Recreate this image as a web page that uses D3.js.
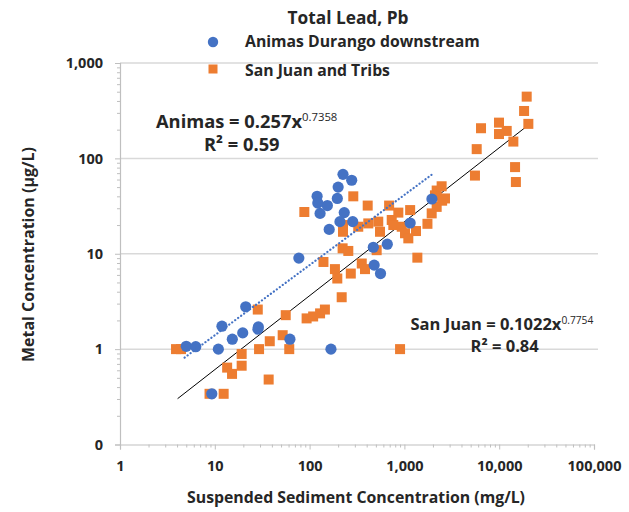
<!DOCTYPE html>
<html>
<head>
<meta charset="utf-8">
<script src="https://cdn.jsdelivr.net/npm/d3@7"></script>
<style>
  body { margin: 0; background: #fff; }
  svg text { font-family: "Open Sans", Lato, sans-serif; font-weight: bold; fill: #262626; }
</style>
</head>
<body>
<svg id="chart" width="629" height="512"></svg>
<script>
// Suspended sediment (mg/L) and total lead (µg/L) samples
const animasSSC = [5, 6.3, 10.9, 15.3, 19.7, 11.9, 28.8, 28.5, 21.2, 9.3, 62, 77, 168,
  225, 278, 200, 120, 196, 154, 129, 122, 232, 209, 285, 161, 470, 480, 560, 660, 1150, 1950];
const animasPb = [1.07, 1.06, 1.0, 1.27, 1.48, 1.74, 1.71, 1.62, 2.78, 0.34, 1.27, 9.0, 1.0,
  68, 59, 50, 40, 38, 32, 26.5, 34, 27, 21.7, 21.7, 18, 11.7, 7.6, 6.2, 12.6, 21, 37.5];

const sanJuanSSC = [3.9, 4.4, 8.8, 12.4, 13.5, 15.2, 19.2, 19.2, 28.4, 29.3, 37, 38, 52, 56, 61,
  88, 93, 109, 129, 145, 140, 185, 196, 218, 225, 225, 223, 256, 272, 289, 326, 355, 384,
  410, 416, 510, 530, 553, 690, 735, 764, 863, 900, 937, 1015, 1100, 1150, 1325, 1370,
  1750, 1940, 2100, 2190, 2190, 2470, 2680, 2500,
  5550, 5790, 6430, 9950, 9950, 12000, 14100, 14700, 15000, 18300, 19500, 20300];
const sanJuanPb = [1.0, 1.0, 0.34, 0.34, 0.64, 0.55, 0.67, 0.89, 2.6, 1.0, 0.48, 1.21, 1.4, 2.27, 1.0,
  27.4, 2.1, 2.2, 2.37, 2.6, 8.2, 6.9, 5.5, 3.5, 20, 17, 11.4, 10.7, 6.2, 40, 19.2, 7.9, 6.9,
  32, 20.8, 10.9, 21.7, 17, 32, 22.6, 20, 27, 1.0, 19.2, 16.4, 14.5, 28.7, 17.3, 9.1,
  20.6, 26.5, 41, 46, 31, 51, 38, 36,
  66, 125, 207, 237, 180, 194, 150, 81, 56.5, 314, 444, 230];

// Power-law fits y = a * x^b and the SSC span each one covers
const animasFit = [0.257, 0.7358];
const animasFitSpan = [4.8, 1950];
const sanJuanFit = [0.1022, 0.7754];
const sanJuanFitSpan = [4.05, 20300];

const xTicks = [1, 10, 100, 1000, 10000, 100000];
const xTickLabels = ["1", "10", "100", "1,000", "10,000", "100,000"];
const yTicks = [0.1, 1, 10, 100, 1000];
const yTickLabels = ["0", "1", "10", "100", "1,000"];

const blue = "#4472C4";
const orange = "#ED7D31";
const axisGrey = "#bfbfbf";

const svg = d3.select("#chart");

const x = d3.scaleLog().domain([1, 100000]).range([120, 594]);
const y = d3.scaleLog().domain([0.1, 1000]).range([444.5, 63]);

// scale a text's font size so that it spans the given width
function fitWidth(sel, width) {
  const base = +sel.attr("font-size");
  const len = sel.node().getComputedTextLength();
  sel.attr("font-size", base * width / len);
  return sel;
}

// minor tick positions (2..9 within each decade)
const minorX = [];
for (let d = 1; d < 100000; d *= 10) for (let k = 2; k <= 9; k++) minorX.push(d * k);
const minorY = [];
for (let d = 0.1; d < 999; d *= 10) for (let k = 2; k <= 9; k++) minorY.push(+(d * k).toPrecision(3));

// horizontal gridlines
svg.append("g")
  .selectAll("line")
  .data(yTicks.slice(1))
  .join("line")
  .attr("x1", x(1)).attr("x2", 598)
  .attr("y1", d => y(d)).attr("y2", d => y(d))
  .attr("stroke", "#d9d9d9").attr("stroke-width", 1.5);

// minor ticks
const xMinor = svg.append("g").attr("transform", `translate(0,${y(0.1)})`)
  .call(d3.axisBottom(x).tickValues(minorX).tickSize(3).tickFormat(""));
const yMinor = svg.append("g").attr("transform", `translate(${x(1)},0)`)
  .call(d3.axisLeft(y).tickValues(minorY).tickSize(3).tickFormat(""));

// major axes
const xAxis = svg.append("g").attr("transform", `translate(0,${y(0.1)})`)
  .call(d3.axisBottom(x).tickValues(xTicks).tickSize(5).tickPadding(8)
    .tickFormat((d, i) => xTickLabels[i]));
const yAxis = svg.append("g").attr("transform", `translate(${x(1)},0)`)
  .call(d3.axisLeft(y).tickValues(yTicks).tickSize(5).tickPadding(12)
    .tickFormat((d, i) => yTickLabels[i]));

[xMinor, yMinor, xAxis, yAxis].forEach(g => {
  g.select(".domain").attr("stroke", axisGrey).attr("stroke-width", 1.2);
  g.selectAll(".tick line").attr("stroke", axisGrey);
});
xMinor.select(".domain").remove();
yMinor.select(".domain").remove();
[xAxis, yAxis].forEach(g => g.selectAll(".tick text")
  .attr("font-size", 14.5).attr("font-family", "'Open Sans', sans-serif")
  .attr("font-weight", "bold").attr("fill", "#262626"));
xAxis.selectAll(".tick text").attr("dy", "0.9em");

// trend lines
function fitLine(coef, span) {
  const [a, b] = coef;
  return span.map(v => [x(v), y(a * Math.pow(v, b))]);
}
svg.append("path")
  .attr("d", d3.line()(fitLine(sanJuanFit, sanJuanFitSpan)))
  .attr("stroke", "#000").attr("stroke-width", 1).attr("fill", "none");

// San Juan squares
svg.append("g")
  .selectAll("rect")
  .data(sanJuanSSC.map((v, i) => [v, sanJuanPb[i]]))
  .join("rect")
  .attr("x", d => x(d[0]) - 5).attr("y", d => y(d[1]) - 5)
  .attr("width", 10).attr("height", 10)
  .attr("fill", orange);

// Animas circles
svg.append("g")
  .selectAll("circle")
  .data(animasSSC.map((v, i) => [v, animasPb[i]]))
  .join("circle")
  .attr("cx", d => x(d[0])).attr("cy", d => y(d[1]))
  .attr("r", 5.6)
  .attr("fill", blue);

svg.append("path")
  .attr("d", d3.line()(fitLine(animasFit, animasFitSpan)))
  .attr("stroke", blue).attr("stroke-width", 2.2).attr("fill", "none")
  .attr("stroke-dasharray", "0.1 3.6").attr("stroke-linecap", "round");

// title and legend
fitWidth(svg.append("text").attr("x", 348).attr("y", 23.5).attr("text-anchor", "middle")
  .attr("font-size", 17).text("Total Lead, Pb"), 121);

svg.append("circle").attr("cx", 213).attr("cy", 42).attr("r", 5.2).attr("fill", blue);
fitWidth(svg.append("text").attr("x", 245).attr("y", 47).attr("font-size", 15)
  .text("Animas Durango downstream"), 235);
svg.append("rect").attr("x", 208.5).attr("y", 64.5).attr("width", 9).attr("height", 9).attr("fill", orange);
fitWidth(svg.append("text").attr("x", 245).attr("y", 75.5).attr("font-size", 15)
  .text("San Juan and Tribs"), 145);

// fit equations with their R² lines
function equation(xPos, yPos, prefix, coef, mainWidth, r2, r2x, gap) {
  const t = svg.append("text").attr("x", xPos).attr("y", yPos);
  const main = t.append("tspan").attr("font-size", 15).text(`${prefix} = ${coef[0]}x`);
  const fs = 15 * mainWidth / main.node().getComputedTextLength();
  main.attr("font-size", fs);
  t.append("tspan").attr("dy", -fs * 0.38).attr("font-size", fs * 0.62)
    .attr("font-weight", "normal").text(coef[1]);
  svg.append("text").attr("x", r2x).attr("y", yPos + gap).attr("font-size", fs)
    .text(`R² = ${r2}`);
}
equation(156, 128, "Animas", animasFit, 146, "0.59", 204, 23);
equation(410.5, 330, "San Juan", sanJuanFit, 151, "0.84", 470.5, 21.5);

// axis titles
fitWidth(svg.append("text").attr("x", 356).attr("y", 503).attr("text-anchor", "middle")
  .attr("font-size", 15.5).text("Suspended Sediment Concentration (mg/L)"), 338);
fitWidth(svg.append("text").attr("transform", "translate(34,254.5) rotate(-90)").attr("text-anchor", "middle")
  .attr("font-size", 15.5).text("Metal Concentration (µg/L)"), 215);
</script>
</body>
</html>
